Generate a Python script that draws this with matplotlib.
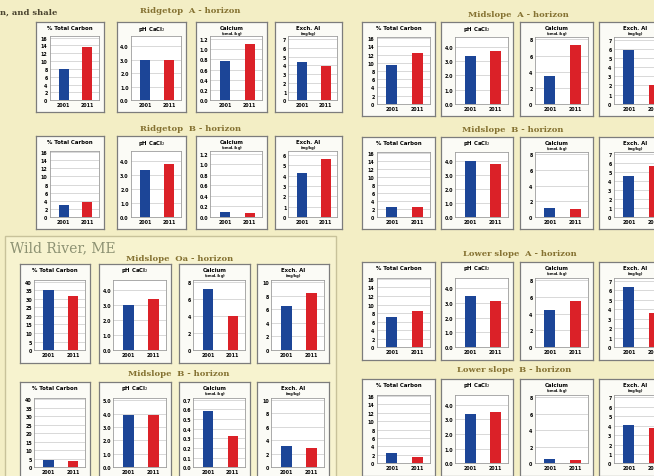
import matplotlib
matplotlib.use('Agg')
import matplotlib.pyplot as plt
from matplotlib.patches import Rectangle

W, H = 654, 477

# sites / horizons, in drawing order
groups = ['Ridgetop  A - horizon', 'Ridgetop  B - horizon',
          'Midslope  A - horizon', 'Midslope  B - horizon',
          'Midslope  Oa - horizon', 'Midslope  B - horizon',
          'Lower slope  A - horizon', 'Lower slope  B - horizon']
years = ['2001', '2011']

carbon_first = [8.0, 2.9, 9.4, 2.4, 34.8, 4.5, 7.2, 2.4]
carbon_second = [13.7, 3.6, 12.3, 2.5, 31.7, 3.5, 8.4, 1.5]
ph_first = [3.0, 3.33, 3.4, 4.0, 3.0, 3.9, 3.45, 3.37]
ph_second = [3.0, 3.76, 3.7, 3.8, 3.43, 3.9, 3.1, 3.53]
ca_first = [0.76, 0.10, 3.4, 1.15, 7.2, 0.58, 4.5, 0.5]
ca_second = [1.11, 0.07, 7.3, 1.05, 4.0, 0.32, 5.5, 0.4]
al_first = [4.4, 4.25, 5.9, 4.6, 6.4, 3.2, 6.3, 4.1]
al_second = [3.9, 5.6, 2.0, 5.7, 8.4, 2.9, 3.6, 3.8]

# axis scale per group: (ymax, top tick, step, decimals)
carbon_axis = [(16.3, 16, 2, 0)] * 4 + [(41, 40, 5, 0)] * 2 + [(16.3, 16, 2, 0)] * 2
ph_axis = [(4.7, 4, 1, 1)] * 5 + [(5.2, 5, 1, 1)] + [(4.7, 4, 1, 1)] * 2
ca_axis = [(1.25, 1.2, 0.2, 1), (1.25, 1.2, 0.2, 1), (8.3, 8, 2, 0), (8.3, 8, 2, 0),
           (8.3, 8, 2, 0), (0.72, 0.7, 0.1, 1), (8.3, 8, 2, 0), (8.3, 8, 2, 0)]
al_axis = [(7.3, 7, 1, 0), (6.4, 6, 1, 0), (7.3, 7, 1, 0), (7.3, 7, 1, 0),
           (10.3, 10, 2, 0), (10.3, 10, 2, 0), (7.3, 7, 1, 0), (7.3, 7, 1, 0)]

titles = ['% Total Carbon', 'pH CaCl$_2$', 'Calcium', 'Exch. Al']
subtitles = ['', '', '(cmol$_c$/kg)', '(mg/kg)']

# pixel layout of every group: panel column edges, panel top/bottom, title position
left_cols = [(36, 104), (117, 186), (196, 267), (275, 342)]
right_cols = [(362, 435), (441, 513), (520, 593), (599, 672)]
wild_cols = [(20, 90), (99, 171), (179, 250), (257, 329)]
layout = [
    (left_cols, 23, 113, (190, 11)),
    (left_cols, 137, 230, (191, 129)),
    (right_cols, 23, 117, (518, 15)),
    (right_cols, 138, 230, (513, 130)),
    (wild_cols, 265, 364, (180, 259)),
    (wild_cols, 383, 481, (179, 374)),
    (right_cols, 263, 361, (520, 254)),
    (right_cols, 380, 477, (514, 370)),
]

BLUE = '#1c4597'
RED = '#db2128'
BG = '#f3eec5'
TITLE_C = '#857232'


def box(x0, y0, x1, y1):
    return [x0 / W, 1 - y1 / H, (x1 - x0) / W, (y1 - y0) / H]


fig = plt.figure(figsize=(W / 100, H / 100), dpi=100)
fig.patch.set_facecolor(BG)

# Wild River panel background
fig.add_artist(Rectangle((5 / W, 1 - 490 / H), 331 / W, 253 / H, transform=fig.transFigure,
                         facecolor='#f7f3cf', edgecolor='#c8c29a', lw=1.0, zorder=0))
fig.text(10 / W, 1 - 248 / H, 'Wild River, ME', fontsize=10, family='DejaVu Serif',
         color='#8c9172', va='center', ha='left')
fig.text(0, 1 - 13 / H, 'n, and shale', fontsize=6, family='DejaVu Serif', weight='bold',
         color='#4b4530', va='center', ha='left')


def panel(x0, x1, y0, y1, title, sub, v1, v2, axis):
    w = x1 - x0
    h = y1 - y0
    fr = fig.add_axes(box(x0, y0, x1, y1))
    fr.set_facecolor('#fbfbf6')
    fr.set_xticks([])
    fr.set_yticks([])
    for s in fr.spines.values():
        s.set_color('#7c7c7c')
        s.set_linewidth(0.9)
    fr.text(0.5, 1 - 6 / h, title, ha='center', va='center', fontsize=3.9,
            weight='bold', transform=fr.transAxes)
    if sub:
        fr.text(0.5, 1 - 11 / h, sub, ha='center', va='center', fontsize=2.5,
                weight='bold', transform=fr.transAxes)

    ax = fig.add_axes(box(x0 + 0.2 * w, y0 + 0.16 * h, x1 - 0.07 * w, y1 - 0.13 * h))
    ax.set_facecolor('white')
    ax.bar([0, 1], [v1, v2], width=0.42, color=[BLUE, RED], zorder=3)
    ymax, top, step, dec = axis
    n = int(round(top / step))
    ticks = [i * step for i in range(n + 1)]
    ax.set_ylim(0, ymax)
    ax.set_xlim(-0.6, 1.5)
    ax.set_yticks(ticks)
    ax.set_yticklabels([f'{t:.{dec}f}' for t in ticks])
    ax.set_xticks([0, 1])
    ax.set_xticklabels(years)
    ax.tick_params(length=0, labelsize=3.4, pad=1.5)
    for lab in ax.get_xticklabels() + ax.get_yticklabels():
        lab.set_fontweight('bold')
    ax.grid(axis='y', color='#c9c9c9', lw=0.5, zorder=0)
    for s in ax.spines.values():
        s.set_color('#9c9c9c')
        s.set_linewidth(0.6)


series = [(carbon_first, carbon_second, carbon_axis),
          (ph_first, ph_second, ph_axis),
          (ca_first, ca_second, ca_axis),
          (al_first, al_second, al_axis)]

for g, (cols, y0, y1, (tx, ty)) in enumerate(layout):
    fig.text(tx / W, 1 - ty / H, groups[g], ha='center', va='center', fontsize=6,
             family='DejaVu Serif', weight='bold', color=TITLE_C)
    for k, (x0, x1) in enumerate(cols):
        first, second, axis = series[k]
        panel(x0, x1, y0, y1, titles[k], subtitles[k], first[g], second[g], axis[g])

fig.savefig('out.png', dpi=100, facecolor=BG)
